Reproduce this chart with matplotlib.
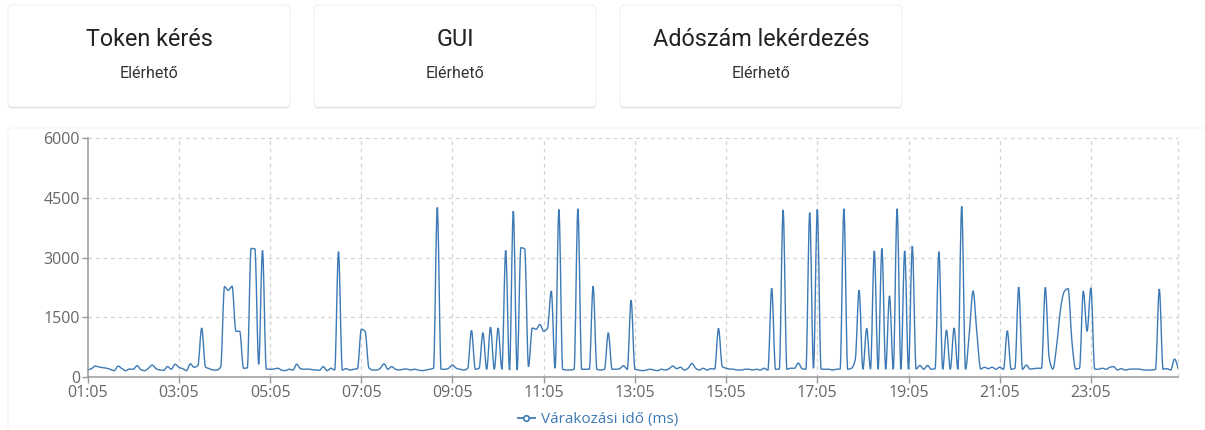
import numpy as np
import matplotlib
matplotlib.use("Agg")
import matplotlib.pyplot as plt
from matplotlib.patches import FancyBboxPatch, PathPatch
from matplotlib.path import Path
from matplotlib.lines import Line2D

# ---------------- data ----------------
card_titles = ["Token kérés", "GUI", "Adószám lekérdezés"]
card_status = ["Elérhető", "Elérhető", "Elérhető"]

series_name = "Várakozási idő (ms)"

# waiting time (ms), one value every 5 minutes, starting 01:05
wait_h01 = [180, 210, 275, 250, 235, 220, 190, 160, 275, 210, 160, 200]
wait_h02 = [195, 285, 185, 160, 220, 300, 210, 175, 170, 260, 195, 320]
wait_h03 = [245, 210, 160, 330, 245, 290, 1230, 250, 210, 175, 175, 250]
wait_h04 = [2270, 2180, 2280, 1150, 1150, 220, 230, 3230, 3220, 320, 3180, 200]
wait_h05 = [195, 200, 220, 175, 160, 195, 175, 320, 210, 195, 200, 185]
wait_h06 = [175, 170, 260, 160, 220, 175, 3150, 175, 210, 175, 195, 210]
wait_h07 = [1200, 1150, 230, 175, 175, 220, 330, 195, 260, 195, 175, 195]
wait_h08 = [200, 175, 195, 175, 160, 175, 195, 220, 4260, 195, 195, 220]
wait_h09 = [300, 220, 195, 175, 220, 1170, 195, 220, 1110, 195, 1250, 195]
wait_h10 = [1230, 195, 3180, 175, 4170, 175, 3250, 3220, 260, 1230, 1200, 1320]
wait_h11 = [1150, 1230, 2160, 220, 4210, 195, 175, 175, 195, 4230, 195, 195]
wait_h12 = [195, 2280, 195, 175, 195, 1110, 195, 195, 210, 285, 195, 1930]
wait_h13 = [195, 175, 160, 175, 195, 175, 160, 195, 175, 210, 275, 210]
wait_h14 = [245, 175, 220, 340, 220, 175, 220, 175, 210, 200, 1220, 260]
wait_h15 = [220, 200, 195, 175, 175, 195, 195, 175, 195, 175, 220, 175]
wait_h16 = [2230, 195, 200, 4200, 195, 220, 220, 350, 210, 195, 4130, 220]
wait_h17 = [4210, 200, 195, 195, 175, 195, 200, 4230, 195, 220, 450, 2180]
wait_h18 = [195, 1220, 200, 3170, 195, 3230, 195, 2040, 195, 4230, 195, 3170]
wait_h19 = [195, 3290, 200, 290, 195, 290, 195, 210, 3150, 195, 1180, 195]
wait_h20 = [1230, 195, 4290, 195, 1100, 2160, 1100, 200, 245, 210, 245, 195]
wait_h21 = [245, 195, 1160, 195, 220, 2260, 195, 300, 200, 210, 220, 220]
wait_h22 = [2250, 500, 200, 800, 1700, 2150, 2220, 900, 200, 220, 2160, 1150]
wait_h23 = [2240, 200, 195, 220, 195, 245, 260, 175, 210, 175, 195, 200]
wait_h24 = [200, 195, 175, 175, 175, 195, 2210, 195, 210, 175, 450, 200]

tick_labels = ["01:05", "03:05", "05:05", "07:05", "09:05", "11:05",
               "13:05", "15:05", "17:05", "19:05", "21:05", "23:05"]
y_ticks = [0, 1500, 3000, 4500, 6000]

wait_ms = (wait_h01 + wait_h02 + wait_h03 + wait_h04 + wait_h05 + wait_h06 +
           wait_h07 + wait_h08 + wait_h09 + wait_h10 + wait_h11 + wait_h12 +
           wait_h13 + wait_h14 + wait_h15 + wait_h16 + wait_h17 + wait_h18 +
           wait_h19 + wait_h20 + wait_h21 + wait_h22 + wait_h23 + wait_h24)

# ---------------- style ----------------
W, H = 1205, 430
LINE_C = "#3d7ab5"
TICK_C = "#666666"
AXIS_C = "#999999"
GRID_C = "#d2d2d2"
FONT = ["Open Sans", "DejaVu Sans"]
CARD_FONT = ["Roboto", "DejaVu Sans"]

fig = plt.figure(figsize=(W / 100, H / 100), dpi=100)
fig.patch.set_facecolor("white")


def px_box(x0, y0, x1, y1):
    """top-origin pixel box -> inches (for dpi_scale_trans)"""
    return x0 / 100, (H - y1) / 100, (x1 - x0) / 100, (y1 - y0) / 100


def card(x0, y0, x1, y1, shadow=True, edge="#ececec"):
    if shadow:
        for off, a in [(2.0, 0.10), (1.2, 0.14), (0.5, 0.18)]:
            bx, by, bw, bh = px_box(x0, y0 + off, x1, y1 + off)
            fig.add_artist(FancyBboxPatch((bx, by), bw, bh,
                                          boxstyle="round,pad=0,rounding_size=0.04",
                                          transform=fig.dpi_scale_trans,
                                          facecolor="#9e9e9e", edgecolor="none",
                                          alpha=a, zorder=-3))
    bx, by, bw, bh = px_box(x0, y0, x1, y1)
    fig.add_artist(FancyBboxPatch((bx, by), bw, bh,
                                  boxstyle="round,pad=0,rounding_size=0.04",
                                  transform=fig.dpi_scale_trans,
                                  facecolor="white", edgecolor=edge, lw=0.6,
                                  zorder=-2))


# chart card (faint)
card(8, 128, 1215, 445, shadow=False, edge="#f0f0f0")

card_x = [(8, 290), (314, 596), (620, 902)]
for (x0, x1), title, status in zip(card_x, card_titles, card_status):
    card(x0, 5, x1, 107)
    cx = (x0 + x1) / 2
    fig.text(cx / W, 1 - 39 / H, title, ha="center", va="center",
             fontsize=16.8, color="#222222", family=CARD_FONT)
    fig.text(cx / W, 1 - 73 / H, status, ha="center", va="center",
             fontsize=11.5, color="#333333", family=CARD_FONT)

# ---------------- chart ----------------
ax_l, ax_r, ax_t, ax_b = 87.7, 1178.3, 138.3, 377.0
ax = fig.add_axes([ax_l / W, (H - ax_b) / H, (ax_r - ax_l) / W, (ax_b - ax_t) / H])
ax.set_facecolor("none")

n = len(wait_ms)
xs = np.arange(n, dtype=float)
ys = np.asarray(wait_ms, dtype=float)


def monotone_path(x, y):
    h = np.diff(x)
    s = np.diff(y) / h
    t = np.zeros(len(x))
    for i in range(1, len(x) - 1):
        p = (s[i - 1] * h[i] + s[i] * h[i - 1]) / (h[i - 1] + h[i])
        sg = (1 if s[i - 1] >= 0 else -1) + (1 if s[i] >= 0 else -1)
        t[i] = sg * min(abs(s[i - 1]), abs(s[i]), 0.5 * abs(p))
    t[0] = (3 * s[0] - t[1]) / 2
    t[-1] = (3 * s[-1] - t[-2]) / 2
    verts = [(x[0], y[0])]
    codes = [Path.MOVETO]
    for i in range(len(x) - 1):
        dx = h[i] / 3
        verts += [(x[i] + dx, y[i] + dx * t[i]),
                  (x[i + 1] - dx, y[i + 1] - dx * t[i + 1]),
                  (x[i + 1], y[i + 1])]
        codes += [Path.CURVE4] * 3
    return Path(verts, codes)


ax.add_patch(PathPatch(monotone_path(xs, ys), facecolor="none",
                       edgecolor=LINE_C, lw=1.0, zorder=3))

ax.set_xlim(0, n - 1)
ax.set_ylim(0, 6000)

tick_pos = np.arange(0, n, 24)[:len(tick_labels)]
ax.set_xticks(tick_pos)
ax.set_xticklabels(tick_labels)
ax.set_yticks(y_ticks)
ax.set_yticklabels([str(v) for v in y_ticks])

# grid
dash = (0, (3, 3))
for v in y_ticks[1:]:
    ax.axhline(v, color=GRID_C, lw=0.9, ls=dash, zorder=1, clip_on=False)
for p in list(tick_pos[1:]) + [n - 1]:
    ax.axvline(p, color=GRID_C, lw=0.9, ls=dash, zorder=1, clip_on=False)

for side in ["top", "right"]:
    ax.spines[side].set_visible(False)
for side in ["left", "bottom"]:
    ax.spines[side].set_color(AXIS_C)
    ax.spines[side].set_linewidth(1.1)
    ax.spines[side].set_zorder(4)

ax.tick_params(axis="both", colors=AXIS_C, length=4.5, width=1.0,
               labelcolor=TICK_C, labelsize=11.5)
ax.tick_params(axis="x", pad=1.5)
ax.tick_params(axis="y", pad=1)
for lbl in ax.get_xticklabels() + ax.get_yticklabels():
    lbl.set_family(FONT)

handle = Line2D([], [], color=LINE_C, lw=1.3, marker="o", markersize=4,
                markerfacecolor="white", markeredgecolor=LINE_C, markeredgewidth=1.2)
leg = ax.legend([handle], [series_name], loc="center",
                bbox_to_anchor=(598 / W, 1 - 420 / H), bbox_transform=fig.transFigure,
                frameon=False, handlelength=1.1, handletextpad=0.4,
                prop={"family": FONT, "size": 11}, labelcolor=LINE_C,
                borderaxespad=0, borderpad=0)

fig.savefig("out.png", dpi=100, facecolor="white")
